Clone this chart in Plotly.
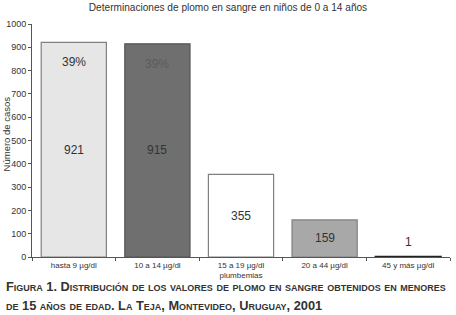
import plotly.graph_objects as go

categories = ["hasta 9 µg/dl", "10 a 14 µg/dl", "15 a 19 µg/dl<br>plumbemias", "20 a 44 µg/dl", "45 y más µg/dl"]
values = [921, 915, 355, 159, 1]
percents = ["39%", "39%", "", "", ""]
bar_colors = ["#e6e6e6", "#6f6f6f", "#ffffff", "#a8a8a8", "#333333"]
line_colors = ["#808080", "#555555", "#808080", "#808080", "#222222"]
line_widths = [1.2, 1.2, 1.2, 1.2, 2]
value_text_colors = ["#333333", "#333333", "#333333", "#333333", "#333333"]
pct_text_colors = ["#333333", "#5c5c5c", "#333333", "#333333", "#333333"]
y_ticks = [0, 100, 200, 300, 400, 500, 600, 700, 800, 900, 1000]

title = "Determinaciones de plomo en sangre en niños de 0 a 14 años"
y_title = "Número de casos"
caption1 = "Figura 1. Distribución de los valores de plomo en sangre obtenidos en menores"
caption2 = "de 15 años de edad. La Teja, Montevideo, Uruguay, 2001"

fig = go.Figure()
fig.add_trace(go.Bar(
    x=categories, y=values,
    marker=dict(color=bar_colors, line=dict(color=line_colors, width=line_widths)),
    width=0.78, hoverinfo="skip",
))

annotations = []
for c, v, p, tc, pc in zip(categories, values, percents, value_text_colors, pct_text_colors):
    if v > 100:
        annotations.append(dict(x=c, y=v / 2, text=str(v), showarrow=False,
                                font=dict(size=12, color=tc), xref="x", yref="y"))
    else:
        annotations.append(dict(x=c, y=v, text=str(v), showarrow=False, yanchor="bottom",
                                yshift=6, font=dict(size=12, color=tc), xref="x", yref="y"))
    if p:
        annotations.append(dict(x=c, y=v, text=p, showarrow=False, yanchor="middle",
                                yshift=-20, font=dict(size=12, color=pc), xref="x", yref="y"))

cap_font = dict(family="Liberation Sans", size=12.8, color="#333333", weight="bold", variant="small-caps")
annotations.append(dict(x=-0.068, y=-0.126, xref="paper", yref="paper", xanchor="left", yanchor="middle",
                        text=caption1, showarrow=False, font=cap_font))
annotations.append(dict(x=-0.068, y=-0.207, xref="paper", yref="paper", xanchor="left", yanchor="middle",
                        text=caption2, showarrow=False, font=cap_font))
annotations.append(dict(x=-0.060, y=0.53, xref="paper", yref="paper", xanchor="center", yanchor="middle",
                        text=y_title, textangle=-90, showarrow=False, font=dict(size=9.5, color="#333333")))

fig.update_layout(
    width=456, height=315,
    margin=dict(l=32, r=6, t=24, b=58, autoexpand=False),
    paper_bgcolor="white", plot_bgcolor="white",
    font=dict(family="Liberation Sans", color="#333333"),
    showlegend=False,
    hovermode=False,
    title=dict(text=title, x=0.5, xref="container", y=1 - 7 / 315, yref="container",
               xanchor="center", yanchor="middle", font=dict(size=10.1, color="#333333")),
    annotations=annotations,
    xaxis=dict(type="category", showline=True, linecolor="#555555", linewidth=1,
               ticks="outside", tickson="boundaries", ticklen=3, tickcolor="#555555",
               tickfont=dict(size=8, color="#333333"), showgrid=False, zeroline=False,
               range=[-0.5, 4.5], automargin=False),
    yaxis=dict(range=[0, 1000], tickvals=y_ticks, showline=True, linecolor="#555555", linewidth=1,
               ticks="outside", ticklen=3, tickcolor="#555555", showgrid=False, zeroline=False,
               tickfont=dict(size=9, color="#333333"), automargin=False),
)

fig.write_html("out.html", config={"displayModeBar": False},
               post_script="document.body.style.margin='0px';")
